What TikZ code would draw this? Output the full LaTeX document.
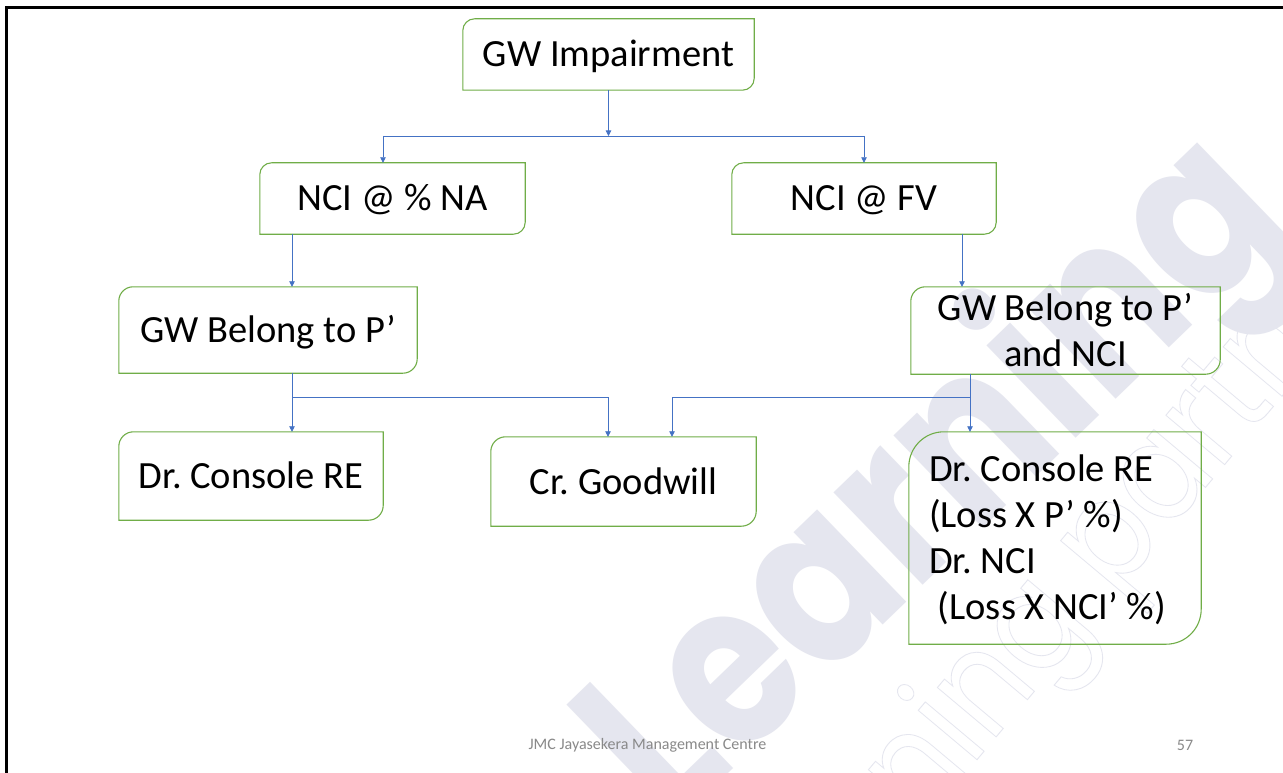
\documentclass[tikz,border=0pt]{standalone}
\usepackage{fontspec}
\setmainfont{Carlito}
\newfontfamily\wmfont{Poppins}
\usetikzlibrary{arrows.meta,calc}
\definecolor{boxgreen}{RGB}{112,173,71}
\definecolor{linkblue}{RGB}{68,114,196}
\definecolor{wmgrey}{RGB}{229,230,239}
\definecolor{footgrey}{RGB}{137,137,137}
\frenchspacing
% stroke glyph outlines instead of filling them
\newcommand\outlinetext[1]{\special{pdf:code 1 Tr 0.9 w}#1\special{pdf:code 0 Tr}}
% box with rounded top-left and bottom-right corners around a named node
\newcommand\dbox[2]{%
  \draw[boxline] (#1.south west) -- ($(#1.north west)+(0,#2)$)
    arc[start angle=180,end angle=90,radius=#2pt] -- (#1.north east)
    -- ($(#1.south east)+(0,-#2)$)
    arc[start angle=0,end angle=-90,radius=#2pt] -- cycle;}

\begin{document}
\begin{tikzpicture}[x=1pt,y=-1pt,
  box/.style={inner sep=0pt, align=flush center, text=black,
              font=\fontsize{38.5}{46}\selectfont, text height=32.7pt, text depth=7.7pt},
  boxline/.style={draw=boxgreen, line width=1.1pt},
  link/.style={draw=linkblue, line width=0.8pt},
  conn/.style={link, -{Triangle[length=5.5pt,width=5.5pt]}},
  foot/.style={inner sep=0pt, text=footgrey, font=\fontsize{16}{16}\selectfont},
  wmark/.style={anchor=base west, inner sep=0pt, text=wmgrey},
]
\useasboundingbox (0,0) rectangle (1283,773);
\fill[white] (0,0) rectangle (1283,773);

% background watermark
\node[wmark, rotate=44, font=\wmfont\bfseries\fontsize{230}{230}\selectfont] (wm) at (670,830)
  {\scalebox{0.835}[1]{Learning}};
\node[wmark, rotate=50, font=\wmfont\fontsize{140}{140}\selectfont] (wm2) at (772,1004)
  {\scalebox{0.865}[1]{\outlinetext{learning partner}}};

% slide frame
\draw[line width=3pt] (6,773) -- (6,7.5) -- (1283,7.5);

% boxes
\node[box, minimum width=291pt, minimum height=71pt] (gw)  at (608.5,54.5) {GW Impairment};
\node[box, minimum width=265pt, minimum height=71pt] (nca) at (392.5,198.5) {NCI @ \% NA};
\node[box, minimum width=264pt, minimum height=71pt] (ncf) at (864,198.5) {NCI @ FV};
\node[box, minimum width=298pt, minimum height=86pt] (gwl) at (268,330) {GW Belong to P’};
\node[box, minimum width=309pt, minimum height=87pt, text height=78.7pt] (gwr) at (1065.5,330.5)
  {GW Belong to P’\\and NCI};
\node[box, minimum width=264pt, minimum height=88pt] (dcr) at (251,476) {Dr. Console RE};
\node[box, minimum width=265pt, minimum height=89pt] (crg) at (623.5,481.5) {Cr. Goodwill};
\node[box, align=flush left, text width=252pt, inner xsep=20pt, minimum height=212pt,
      text depth=145.7pt] (big) at (1055,538)
  {Dr. Console RE\\(Loss X P’ \%)\\Dr. NCI\\\hspace*{0.23em}(Loss X NCI’ \%)};

\dbox{gw}{11.8}
\dbox{nca}{11.8}
\dbox{ncf}{11.8}
\dbox{gwl}{14.3}
\dbox{gwr}{14.5}
\dbox{dcr}{14.7}
\dbox{crg}{14.8}
\dbox{big}{35}

% connectors
\coordinate (b1) at (383,136);
\coordinate (b2) at (864,136);
\draw[conn] (gw.south) -- (gw.south |- b1);
\draw[link] (b1) -- (b2);
\draw[conn] (b1) -- (b1 |- nca.north);
\draw[conn] (b2) -- (b2 |- ncf.north);

\coordinate (c1) at (292,0);
\coordinate (c2) at (962,0);
\coordinate (c3) at (970,0);
\draw[conn] (c1 |- nca.south) -- (c1 |- gwl.north);
\draw[conn] (c2 |- ncf.south) -- (c2 |- gwr.north);

\coordinate (j1) at (292,397);
\coordinate (j2) at (970,397);
\coordinate (e1) at (608,0);
\coordinate (e2) at (672,0);
\draw[conn] (c1 |- gwl.south) -- (c1 |- dcr.north);
\draw[conn] (j1) -| (e1 |- crg.north);
\draw[conn] (c3 |- gwr.south) -- (c3 |- big.north);
\draw[conn] (j2) -| (e2 |- crg.north);

% footer
\node[foot] (ft) at (647.5,745) {JMC Jayasekera Management Centre};
\node[foot] (pg) at (1185,745) {57};
\end{tikzpicture}
\end{document}
